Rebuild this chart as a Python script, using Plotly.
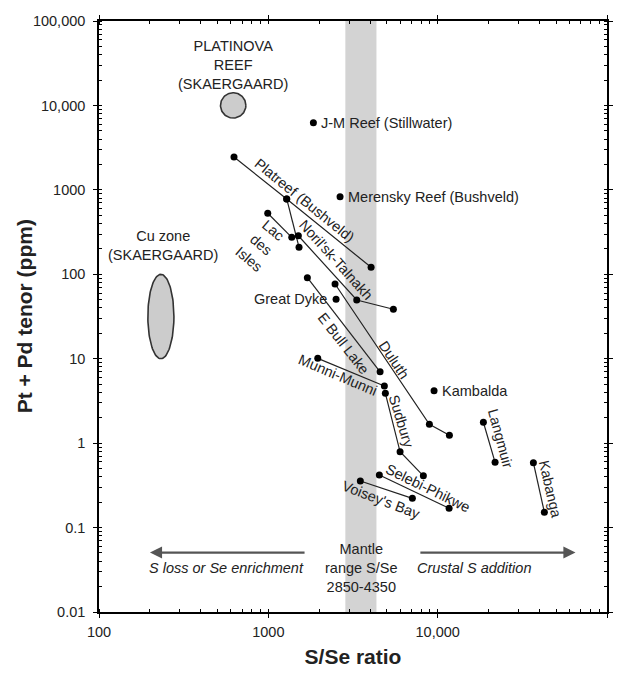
import numpy as np
import plotly.graph_objects as go

# ---- data (S/Se ratio, Pt+Pd tenor ppm) ----
platreef_x = [627, 1284, 4044]
platreef_y = [2450, 780, 121]
platreef_link_x = [1284, 1518]
platreef_link_y = [780, 209]
lac_x = [992, 1375]
lac_y = [528, 274]
norilsk_x = [1504, 3327, 5476]
norilsk_y = [286, 49.6, 38.5]
duluth_x = [2477, 8934, 11730]
duluth_y = [76.7, 1.67, 1.24]
ebull_x = [1700, 4570]
ebull_y = [91, 7.0]
munni_x = [1958, 4843]
munni_y = [10.1, 4.75]
sudbury_x = [4911, 5998, 8233]
sudbury_y = [3.89, 0.79, 0.41]
langmuir_x = [18620, 21830]
langmuir_y = [1.77, 0.593]
kabanga_x = [36750, 42670]
kabanga_y = [0.587, 0.152]
selebi_x = [4524, 11680]
selebi_y = [0.42, 0.169]
voisey_x = [3494, 7089]
voisey_y = [0.356, 0.222]

single_names = ["J-M Reef (Stillwater)", "Merensky Reef (Bushveld)", "Great Dyke", "Kambalda"]
single_x = [1845, 2652, 2512, 9521]
single_y = [6240, 830, 50.6, 4.18]

# ellipses: centre (x, y) and half-extent in decades (log x, log y)
platinova_centre = [620, 10000]
platinova_half = [0.075, 0.150]
cuzone_centre = [232, 31.6]
cuzone_half = [0.077, 0.5]

mantle_range = [2850, 4350]

x_tickvals = [100, 1000, 10000, 100000]
x_ticktext = ["100", "1000", "10,000", "100,000"]
y_tickvals = [0.01, 0.1, 1, 10, 100, 1000, 10000, 100000]
y_ticktext = ["0.01", "0.1", "1", "10", "100", "1000", "10,000", "100,000"]

FONT = "Liberation Sans, Arial, sans-serif"
LBL = 14.5

fig = go.Figure()

fig.add_vrect(x0=mantle_range[0], x1=mantle_range[1], fillcolor="#d3d3d3",
              line_width=0, layer="below")


def ellipse(centre, half, n=120):
    t = np.linspace(0, 2 * np.pi, n)
    lx = np.log10(centre[0]) + half[0] * np.cos(t)
    ly = np.log10(centre[1]) + half[1] * np.sin(t)
    return 10 ** lx, 10 ** ly


for c, h in [(platinova_centre, platinova_half), (cuzone_centre, cuzone_half)]:
    ex, ey = ellipse(c, h)
    fig.add_trace(go.Scatter(x=ex, y=ey, mode="lines", fill="toself",
                             fillcolor="#cccccc", line=dict(color="#333333", width=1.6),
                             hoverinfo="skip", showlegend=False))

series = [
    (platreef_x, platreef_y), (platreef_link_x, platreef_link_y), (lac_x, lac_y),
    (norilsk_x, norilsk_y), (duluth_x, duluth_y), (ebull_x, ebull_y),
    (munni_x, munni_y), (sudbury_x, sudbury_y), (langmuir_x, langmuir_y),
    (kabanga_x, kabanga_y), (selebi_x, selebi_y), (voisey_x, voisey_y),
]
for sx, sy in series:
    fig.add_trace(go.Scatter(x=sx, y=sy, mode="lines+markers",
                             line=dict(color="#222222", width=1.2),
                             marker=dict(color="black", size=7),
                             showlegend=False))

fig.add_trace(go.Scatter(x=single_x, y=single_y, mode="markers",
                         marker=dict(color="black", size=7), showlegend=False))

L = np.log10
ann = []


def text(x, y, t, angle=0, **kw):
    d = dict(x=L(x), y=L(y), xref="x", yref="y", text=t, showarrow=False,
             textangle=angle, font=dict(family=FONT, size=LBL, color="#222222"))
    d.update(kw)
    ann.append(d)


# point labels
text(single_x[0], single_y[0], single_names[0], xanchor="left", xshift=6)
text(single_x[1], single_y[1], single_names[1], xanchor="left", xshift=6)
text(single_x[2], single_y[2], single_names[2], xanchor="right", xshift=-7)
text(single_x[3], single_y[3], single_names[3], xanchor="left", xshift=6)

text(619, 30100, "PLATINOVA<br>REEF<br>(SKAERGAARD)")
text(239, 222, "Cu zone<br>(SKAERGAARD)")

text(1625, 759, "Platreef (Bushveld)", 39)
text(2512, 147.6, "Noril'sk-Talnakh", 48)
text(906, 222, "Lac<br>des<br>Isles", 40)
text(2762, 15.35, "E Bull Lake", 52)
text(5527, 9.66, "Duluth", 56)
text(2563, 6.41, "Munni-Munni", 23)
text(6138, 1.795, "Sudbury", 73)
text(23360, 1.14, "Langmuir", 75)
text(46130, 0.286, "Kabanga", 77)
text(8717, 0.294, "Selebi-Phikwe", 26)
text(4677, 0.212, "Voisey's Bay", 21)

# bottom annotations
text(570, 0.0336, "<i>S loss or Se enrichment</i>")
text(3540, 0.0336, "Mantle<br>range S/Se<br>2850-4350")
text(16400, 0.0336, "<i>Crustal S addition</i>")

for tail, head in [(1670, 200), (7745, 65160)]:
    ann.append(dict(x=L(head), y=L(0.0506), ax=L(tail), ay=L(0.0506),
                    xref="x", yref="y", axref="x", ayref="y", text="",
                    showarrow=True, arrowhead=2, arrowsize=1.1, arrowwidth=2.2,
                    arrowcolor="#555555"))

# y-axis title
ann.append(dict(x=-0.146, y=0.5, xref="paper", yref="paper", text="<b>Pt + Pd tenor (ppm)</b>",
                showarrow=False, textangle=-90, xanchor="center", yanchor="middle",
                font=dict(family=FONT, size=21, color="#222222")))

x_minor = [m * 10 ** d for d in range(2, 5) for m in range(1, 10)] + [100000]
y_minor = [m * 10 ** d for d in range(-2, 5) for m in range(1, 10)] + [100000]

axis_common = dict(type="log", showgrid=False, zeroline=False, showline=True,
                   linecolor="black", linewidth=1.5, mirror="allticks",
                   ticks="outside", ticklen=4, tickwidth=1.2, tickcolor="black",
                   automargin=False,
                   tickmode="array", tickfont=dict(family=FONT, size=14.5, color="#222222"))

fig.update_layout(
    width=633, height=674,
    margin=dict(l=99, r=26, t=21, b=62, autoexpand=False),
    paper_bgcolor="white", plot_bgcolor="white",
    showlegend=False,
    annotations=ann,
    xaxis=dict(axis_common, range=[2, 5], tickvals=x_tickvals, ticktext=x_ticktext,
               ticklabelstandoff=2,
               minor=dict(tickmode="array", tickvals=x_minor, ticks="inside",
                          ticklen=3, tickcolor="black", showgrid=False),
               title=dict(text="<b>S/Se ratio</b>", font=dict(family=FONT, size=21, color="#222222"),
                          standoff=10)),
    yaxis=dict(axis_common, range=[-2, 5], tickvals=y_tickvals, ticktext=y_ticktext,
               ticklabelstandoff=5,
               minor=dict(tickmode="array", tickvals=y_minor, ticks="inside",
                          ticklen=3, tickcolor="black", showgrid=False)),
)

fig.write_html("out.html")
